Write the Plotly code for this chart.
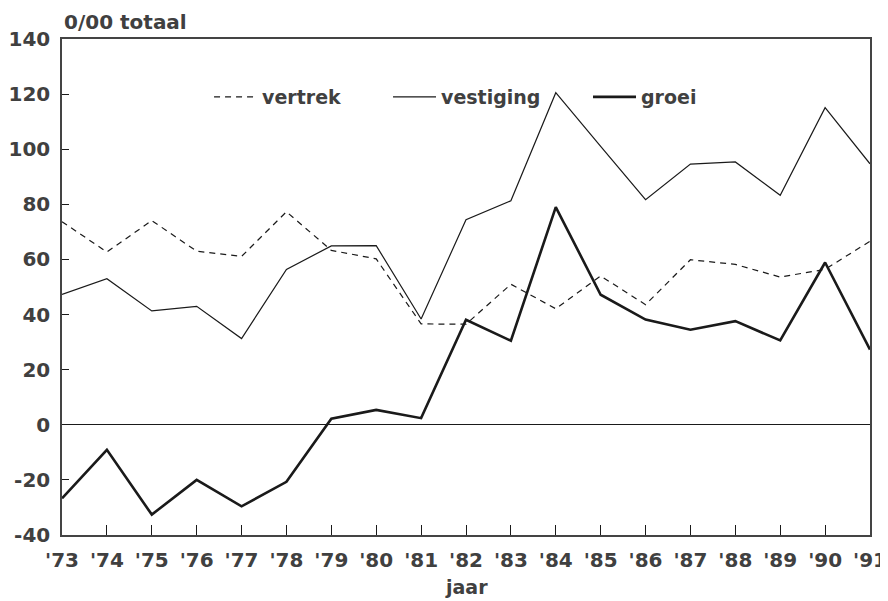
import plotly.graph_objects as go

years = list(range(1973, 1992))
tick_labels = ["'73", "'74", "'75", "'76", "'77", "'78", "'79", "'80", "'81", "'82",
               "'83", "'84", "'85", "'86", "'87", "'88", "'89", "'90", "'91"]
y_tickvals = [-40, -20, 0, 20, 40, 60, 80, 100, 120, 140]
y_ticktext = ["-40", "-20", "0", "20", "40", "60", "80", "100", "120", "140"]

vertrek = [73.7, 62.7, 74.1, 63.0, 61.1, 77.3, 63.3, 60.2, 36.6, 36.5,
           51.0, 42.1, 54.0, 43.6, 59.9, 58.2, 53.6, 56.4, 66.6]
vestiging = [47.3, 53.0, 41.3, 43.0, 31.3, 56.4, 64.9, 65.0, 38.4, 74.4,
             81.3, 120.5, 101.0, 81.7, 94.6, 95.4, 83.3, 115.1, 94.7]
groei = [-26.7, -9.1, -32.6, -20.0, -29.6, -20.7, 2.2, 5.4, 2.4, 38.1,
         30.5, 79.0, 47.2, 38.2, 34.5, 37.6, 30.6, 58.9, 27.3]

FONT = "DejaVu Sans"
TXT = "#404040"
LINE = "#1a1a1a"

fig = go.Figure()
fig.add_trace(go.Scatter(x=years, y=vertrek, mode="lines", name="vertrek",
                         line=dict(color=LINE, width=1.2, dash="6px,5px"),
                         legend="legend", showlegend=True))
fig.add_trace(go.Scatter(x=years, y=vestiging, mode="lines", name="vestiging",
                         line=dict(color=LINE, width=1.2),
                         legend="legend2", showlegend=True))
fig.add_trace(go.Scatter(x=years, y=groei, mode="lines", name="groei",
                         line=dict(color=LINE, width=2.6),
                         legend="legend3", showlegend=True))

leg_common = dict(orientation="h", yanchor="middle", xanchor="left", itemwidth=43,
                  bgcolor="rgba(0,0,0,0)", borderwidth=0,
                  font=dict(family=FONT, size=19, color=TXT, weight="bold"))
ly = 0.883

fig.update_layout(
    width=880, height=593,
    showlegend=True,
    margin=dict(l=54, r=18, t=31, b=66, autoexpand=False),
    plot_bgcolor="white", paper_bgcolor="white",
    font=dict(family=FONT, color=TXT),
    legend=dict(x=0.182, y=ly, **leg_common),
    legend2=dict(x=0.4035, y=ly, **leg_common),
    legend3=dict(x=0.651, y=ly, **leg_common),
    xaxis=dict(
        range=[1973, 1991], tickmode="array", tickvals=years, ticktext=tick_labels,
        ticks="inside", ticklen=10, tickwidth=1.3, tickcolor=LINE,
        showgrid=False, zeroline=False, automargin=False,
        showline=True, linecolor="#444444", linewidth=1.5, mirror=True,
        tickfont=dict(family=FONT, size=20, color=TXT, weight="bold"),
        ticklabelstandoff=6,
    ),
    yaxis=dict(
        range=[-40, 140], tickmode="array", tickvals=y_tickvals, ticktext=y_ticktext,
        ticks="inside", ticklen=7, tickwidth=1.3, tickcolor=LINE,
        showgrid=False, zeroline=True, zerolinecolor=LINE, zerolinewidth=1.2,
        automargin=False,
        showline=True, linecolor="#444444", linewidth=1.5, mirror=True,
        tickfont=dict(family=FONT, size=20, color=TXT, weight="bold"),
        ticklabelstandoff=6,
    ),
    annotations=[
        dict(text="0/00 totaal", xref="paper", yref="paper", x=0, y=1.034,
             xanchor="left", yanchor="middle", showarrow=False,
             font=dict(family=FONT, size=20, color=TXT, weight="bold")),
        dict(text="jaar", xref="paper", yref="paper", x=0.5, y=-0.105,
             xanchor="center", yanchor="middle", showarrow=False,
             font=dict(family=FONT, size=19, color=TXT, weight="bold")),
    ],
)

fig.write_html("out.html")
